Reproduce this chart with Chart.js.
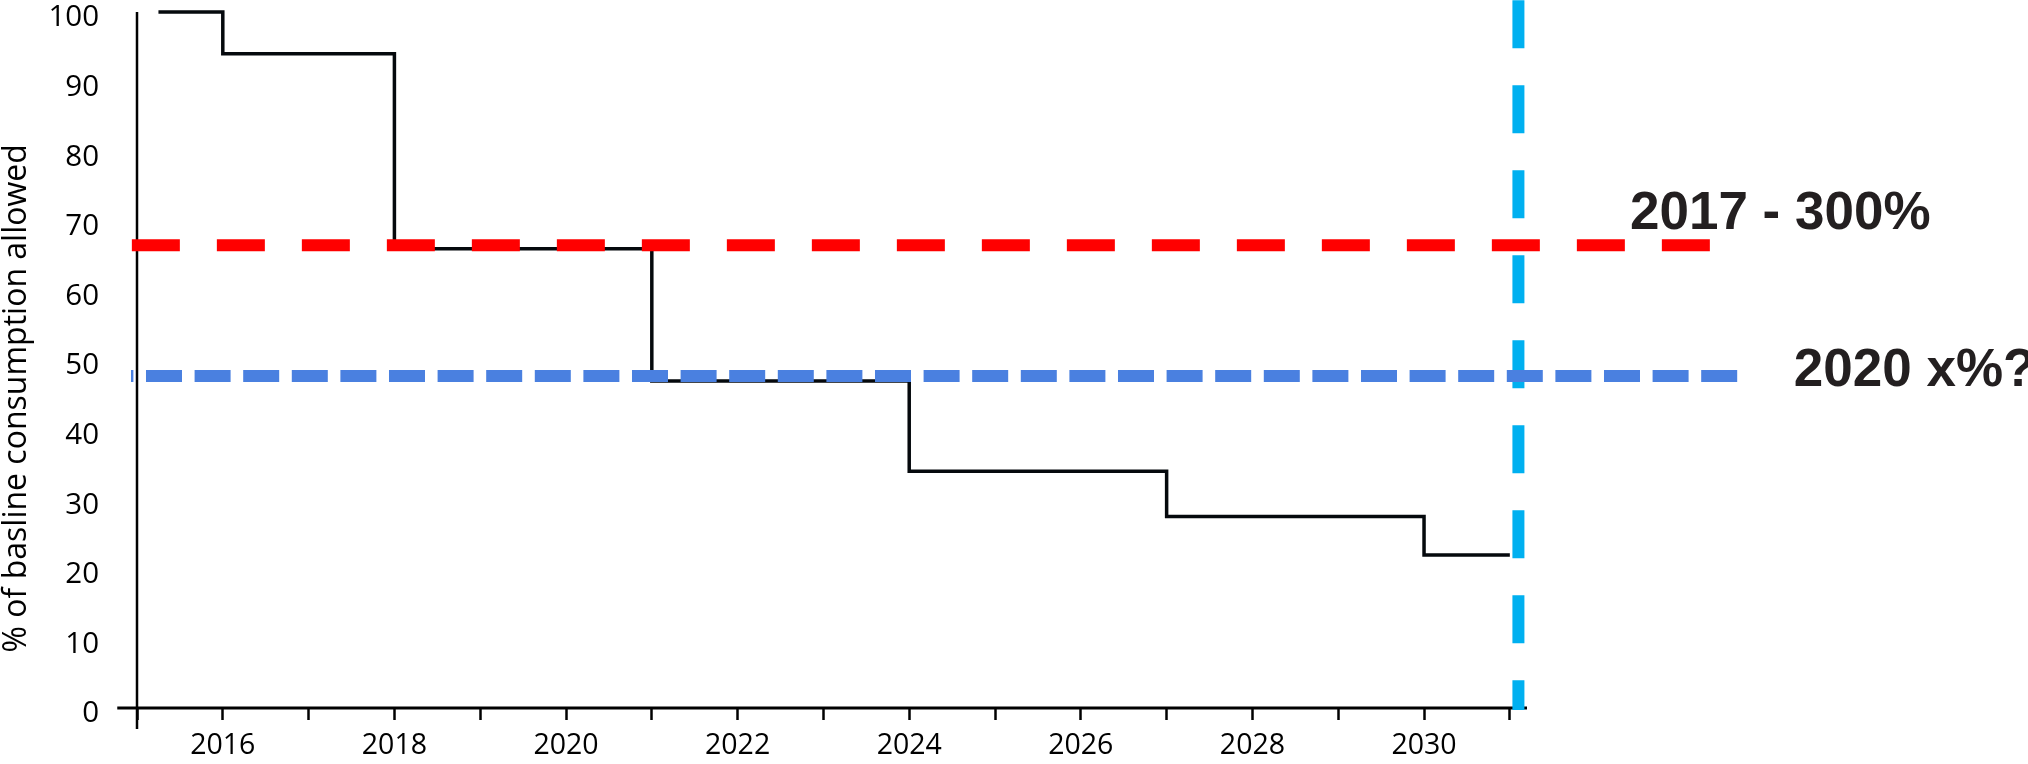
<!DOCTYPE html>
<html>
<head>
<meta charset="utf-8">
<script src="https://cdn.jsdelivr.net/npm/chart.js@4.4.0/dist/chart.umd.min.js"></script>
<style>
  html, body { margin: 0; padding: 0; background: #fff; }
</style>
</head>
<body>
<canvas id="chart" width="2028" height="764"></canvas>
<script>
// allowance steps: year each level starts, and the level (% of baseline)
const stepYears = [2015.25, 2016, 2018, 2021, 2024, 2027, 2030, 2031];
const allowedPct = [100, 94, 66, 47, 34, 27.5, 22, 22];

// dashed reference lines
const redLevel = 66.5;
const redSpan = [2014.94, 2033.35];
const blueLevel = 47.7;
const blueSpan = [2014.93, 2033.66];
const cutoffYear = 2031.1;
const cutoffSpan = [101.7, -0.3];

const redCaption = '2017 - 300%';
const blueCaption = '2020 x%?';

// axes
const xTickLabels = ['2016', '2018', '2020', '2022', '2024', '2026', '2028', '2030'];
const yTickLabels = [0, 10, 20, 30, 40, 50, 60, 70, 80, 90, 100];
const yTitle = '% of basline consumption allowed';

const xAxisSpan = [2014.77, 2031.2];
const yAxisSpan = [-3, 100];

// captions next to the dashed lines + the y title (sits a bit below centre in the original)
const captions = {
  id: 'captions',
  afterDatasetsDraw(chart) {
    const { ctx, scales: { x, y } } = chart;
    ctx.save();
    ctx.font = 'bold 53px "Liberation Sans", Arial, sans-serif';
    ctx.fillStyle = '#231f20';
    ctx.textAlign = 'left';
    ctx.textBaseline = 'middle';
    ctx.fillText(redCaption, x.getPixelForValue(2032.4), y.getPixelForValue(redLevel) - 31);
    ctx.fillText(blueCaption, x.getPixelForValue(2034.31), y.getPixelForValue(blueLevel) - 5);

    ctx.translate(17, y.getPixelForValue(44.5));
    ctx.rotate(-Math.PI / 2);
    ctx.font = '32px "Open Sans", sans-serif';
    ctx.fillStyle = '#000';
    ctx.textAlign = 'center';
    ctx.fillText(yTitle, 0, 0);
    ctx.restore();
  }
};

const line = (pts, color, width, extra) => Object.assign({
  data: pts,
  borderColor: color,
  borderWidth: width,
  pointRadius: 0,
  fill: false,
  clip: false,
  tension: 0
}, extra);

const ctx = document.getElementById('chart').getContext('2d');
new Chart(ctx, {
  type: 'line',
  data: {
    datasets: [
      line(stepYears.map((x, i) => ({ x, y: allowedPct[i] })), '#05090d', 3.5,
        { stepped: true, borderJoinStyle: 'miter', order: 4 }),
      line([{ x: cutoffYear, y: cutoffSpan[0] }, { x: cutoffYear, y: cutoffSpan[1] }], '#00b0f0', 12,
        { borderDash: [48, 37], order: 3 }),
      line([{ x: redSpan[0], y: redLevel }, { x: redSpan[1], y: redLevel }], '#ff0000', 12,
        { borderDash: [48, 37], order: 2 }),
      line([{ x: blueSpan[0], y: blueLevel }, { x: blueSpan[1], y: blueLevel }], '#4a80e0', 12,
        { borderDash: [36, 12.6], borderDashOffset: 33.6, order: 1 }),
      // axis lines (extend past the origin like the original)
      line([{ x: xAxisSpan[0], y: 0 }, { x: xAxisSpan[1], y: 0 }], '#000', 3, { order: 5 }),
      line([{ x: 2015, y: yAxisSpan[0] }, { x: 2015, y: yAxisSpan[1] }], '#000', 2.5, { order: 5 })
    ]
  },
  options: {
    responsive: false,
    animation: false,
    layout: { padding: { top: 12, right: 501, bottom: 0, left: 0 } },
    plugins: {
      legend: { display: false },
      tooltip: { enabled: false }
    },
    scales: {
      x: {
        type: 'linear',
        min: 2015,
        max: xAxisSpan[1],
        border: { display: false },
        grid: {
          drawOnChartArea: false,
          drawTicks: true,
          tickLength: 12,
          tickWidth: 2.5,
          color: '#000'
        },
        ticks: {
          stepSize: 1,
          includeBounds: false,
          autoSkip: false,
          maxRotation: 0,
          padding: 9,
          color: '#000',
          font: { family: '"Open Sans", sans-serif', size: 28.5 },
          callback: v => xTickLabels.includes(String(v)) ? String(v) : ''
        },
        afterFit: s => { s.height = 56; s.paddingLeft = 0; s.paddingRight = 0; }
      },
      y: {
        min: yTickLabels[0],
        max: yTickLabels[yTickLabels.length - 1],
        border: { display: false },
        grid: { display: false, drawTicks: false },
        ticks: {
          stepSize: 10,
          padding: 38,
          labelOffset: 6,
          color: '#000',
          font: { family: '"Open Sans", sans-serif', size: 29.5 }
        },
        title: { display: false },
        afterFit: s => { s.width = 137; s.paddingTop = 0; s.paddingBottom = 0; }
      }
    }
  },
  plugins: [captions]
});
</script>
</body>
</html>
